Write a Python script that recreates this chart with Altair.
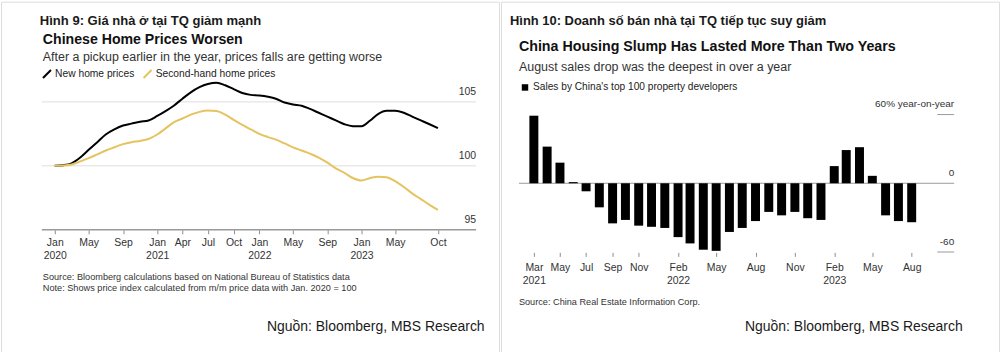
import altair as alt
import pandas as pd
import datetime as dt

# ---------------- data: left panel (price index, Jan 2020 = 100) ----------------
left_months = pd.date_range("2020-01-01", "2023-10-01", freq="MS").strftime("%Y-%m-%d").tolist()
new_home = [100.0, 100.05, 100.2, 100.65, 101.25, 101.85, 102.45, 102.85, 103.15, 103.3,
            103.45, 103.55, 103.9, 104.3, 104.7, 105.25, 105.75, 106.15, 106.4, 106.5,
            106.3, 106.0, 105.7, 105.55, 105.5, 105.4, 105.25, 104.95, 104.8, 104.7,
            104.45, 104.15, 103.85, 103.55, 103.25, 103.1, 103.1, 103.55, 104.05, 104.3,
            104.3, 104.15, 103.85, 103.55, 103.25, 102.95]
second_hand = [100.0, 100.02, 100.1, 100.35, 100.6, 100.9, 101.2, 101.45, 101.7, 101.85,
               101.95, 102.1, 102.45, 102.95, 103.4, 103.7, 104.0, 104.22, 104.32, 104.28,
               104.0, 103.6, 103.2, 102.85, 102.5, 102.25, 102.05, 101.75, 101.45, 101.2,
               100.95, 100.65, 100.25, 99.8, 99.45, 99.05, 98.85, 99.05, 99.15, 99.1,
               98.8, 98.35, 97.85, 97.4, 96.95, 96.55]
left_series = ["New home prices", "Second-hand home prices"]
left_colors = ["#000000", "#E5C35F"]
left_tick_dates = ["2020-01-01", "2020-05-01", "2020-09-01", "2021-01-01", "2021-04-01",
                   "2021-07-01", "2021-10-01", "2022-01-01", "2022-05-01", "2022-09-01",
                   "2023-01-01", "2023-05-01", "2023-10-01"]
left_grid_values = [100, 105]
left_axis_value = [95]
left_y_ticks = [95, 100, 105]
left_y_labels = ["95", "100", "105"]

# ---------------- data: right panel (sales, % y/y) ----------------
right_months = pd.date_range("2021-03-01", "2023-08-01", freq="MS").strftime("%Y-%m-%d").tolist()
sales_yoy = [59, 32, 18, 1, -7, -21, -35, -32, -37, -38,
             -39, -47, -52.5, -58, -59, -42.5, -39, -33, -25, -28, -25, -30.5,
             -32, 15, 29, 31.5, 6.5, -28, -33, -34]
right_series = ["Sales by China's top 100 property developers"]
right_tick_dates = ["2021-03-01", "2021-05-01", "2021-07-01", "2021-09-01", "2021-11-01",
                    "2022-02-01", "2022-05-01", "2022-08-01", "2022-11-01",
                    "2023-02-01", "2023-05-01", "2023-08-01"]
right_y_ticks = [60, 0, -60]
right_y_labels = ["60% year-on-year", "0", "-60"]

FONT = "Liberation Sans"
DAY = 86400000
CELL_W, CELL_H = 500, 352


def ms(d):
    return int(dt.datetime.fromisoformat(d).replace(tzinfo=dt.timezone.utc).timestamp() * 1000)


def text(s, x, y, size, weight="normal", color="#1a1a1a", align="left"):
    return alt.Chart(pd.DataFrame({"t": [s]})).mark_text(
        align=align, baseline="middle", fontSize=size, fontWeight=weight,
        color=color, font=FONT
    ).encode(x=alt.value(x), y=alt.value(y), text="t:N")


# ---------------- left panel ----------------
l_anchor, l_pxd = 54.0, 0.2810  # Jan 2020 pixel, px per day
l_t0 = ms("2020-01-01")
lx_scale = alt.Scale(type="utc", nice=False, padding=0,
                     domain=[l_t0 - l_anchor / l_pxd * DAY, l_t0 + (CELL_W - l_anchor) / l_pxd * DAY])
l_base_y, l_ppu = 229.0, 12.84
ly_scale = alt.Scale(domain=[95 - (CELL_H - l_base_y) / l_ppu, 95 + l_base_y / l_ppu],
                     nice=False, zero=False)

ldf = pd.DataFrame({
    "date": left_months * 2,
    "value": new_home + second_hand,
    "series": [left_series[0]] * len(new_home) + [left_series[1]] * len(second_hand),
})

l_label_expr = ("utcmonth(datum.value) == 0 ? [utcFormat(datum.value, '%b'), utcFormat(datum.value, '%Y')]"
                " : utcFormat(datum.value, '%b')")

lines = alt.Chart(ldf).mark_line(strokeWidth=2, interpolate="monotone").encode(
    x=alt.X("date:T", scale=lx_scale, title=None,
            axis=alt.Axis(values=[ms(d) for d in left_tick_dates], labelExpr=l_label_expr,
                          offset=-(CELL_H - l_base_y), domain=False, grid=False,
                          ticks=True, tickSize=4, tickColor="#8c8c8c", tickWidth=1,
                          labelFontSize=10.5, labelColor="#333333", labelFont=FONT,
                          labelPadding=4, labelLineHeight=13, labelOverlap=False,
                          labelFlush=False, labelAlign="center")),
    y=alt.Y("value:Q", scale=ly_scale, axis=None),
    color=alt.Color("series:N", scale=alt.Scale(domain=left_series, range=left_colors),
                    legend=alt.Legend(orient="none", legendX=41, legendY=67, direction="horizontal",
                                      title=None, symbolType="M-1,1L1,-1", symbolSize=64,
                                      symbolStrokeWidth=2, labelFontSize=10.3, labelColor="#222222",
                                      labelFont=FONT, labelOffset=3, columnPadding=5, padding=0,
                                      labelLimit=0)),
)

l_grid = alt.Chart(pd.DataFrame({"v": left_grid_values})).mark_rule(color="#dedede", strokeWidth=1).encode(
    y=alt.Y("v:Q", scale=ly_scale, axis=None), x=alt.value(41), x2=alt.value(477))
l_axisline = alt.Chart(pd.DataFrame({"v": left_axis_value})).mark_rule(color="#9a9a9a", strokeWidth=1.5).encode(
    y=alt.Y("v:Q", scale=ly_scale, axis=None), x=alt.value(41), x2=alt.value(477))
l_ylabels = alt.Chart(pd.DataFrame({"v": left_y_ticks, "lab": left_y_labels})).mark_text(
    align="right", baseline="middle", dy=-10, fontSize=10.5, color="#333333", font=FONT
).encode(y=alt.Y("v:Q", scale=ly_scale, axis=None), x=alt.value(477), text="lab:N")

left = alt.layer(
    l_grid, l_axisline, l_ylabels, lines,
    text("Hình 9: Giá nhà ở tại TQ giảm mạnh", 39, 19, 13.1, "bold"),
    text("Chinese Home Prices Worsen", 42, 38, 14.2, "bold", "#111111"),
    text("After a pickup earlier in the year, prices falls are getting worse", 42, 56, 12.5, color="#333333"),
    text("Source: Bloomberg calculations based on National Bureau of Statistics data", 42, 276, 9.2, color="#333333"),
    text("Note: Shows price index calculated from m/m price data with Jan. 2020 = 100", 42, 287, 9.2, color="#333333"),
    text("Nguồn: Bloomberg, MBS Research", 267, 327, 14, color="#1a1a1a"),
).properties(width=CELL_W, height=CELL_H)

# ---------------- right panel ----------------
r_anchor, r_pxd = 33.0, 0.4296  # Mar 2021 pixel (cell coords), px per day
r_t0 = ms("2021-03-01")
rx_scale = alt.Scale(type="utc", nice=False, padding=0,
                     domain=[r_t0 - r_anchor / r_pxd * DAY, r_t0 + (CELL_W - r_anchor) / r_pxd * DAY])
r_zero, r_ppu = 182.3, 1.15
ry_scale = alt.Scale(domain=[-(CELL_H - r_zero) / r_ppu, r_zero / r_ppu], nice=False, zero=False)

rdf = pd.DataFrame({"date": right_months, "value": sales_yoy, "series": right_series * len(sales_yoy)})

r_label_expr = ("(utcmonth(datum.value) == 1 || (utcyear(datum.value) == 2021 && utcmonth(datum.value) == 2))"
                " ? [utcFormat(datum.value, '%b'), utcFormat(datum.value, '%Y')] : utcFormat(datum.value, '%b')")

bars = alt.Chart(rdf).mark_bar(size=9).encode(
    x=alt.X("date:T", scale=rx_scale, title=None,
            axis=alt.Axis(values=[ms(d) for d in right_tick_dates], labelExpr=r_label_expr,
                          offset=-(CELL_H - 251.7), domain=False, grid=False,
                          ticks=True, tickSize=4, tickColor="#8c8c8c", tickWidth=1,
                          labelFontSize=10.5, labelColor="#333333", labelFont=FONT,
                          labelPadding=6, labelLineHeight=13.5, labelOverlap=False,
                          labelFlush=False, labelAlign="center")),
    y=alt.Y("value:Q", scale=ry_scale, axis=None),
    y2=alt.datum(0),
    fill=alt.Fill("series:N", scale=alt.Scale(domain=right_series, range=["#000000"]),
                  legend=alt.Legend(orient="none", legendX=19, legendY=81, direction="horizontal",
                                    title=None, symbolType="square", symbolSize=42,
                                    symbolStrokeWidth=0, labelFontSize=10.2, labelColor="#222222",
                                    labelFont=FONT, labelOffset=3, padding=0, labelLimit=0)),
)

r_zero_line = alt.Chart(pd.DataFrame({"v": [0]})).mark_rule(color="#9a9a9a", strokeWidth=1).encode(
    y=alt.Y("v:Q", scale=ry_scale, axis=None), x=alt.value(18), x2=alt.value(455))
r_short = alt.Chart(pd.DataFrame({"v": [60, -60]})).mark_rule(color="#9a9a9a", strokeWidth=1).encode(
    y=alt.Y("v:Q", scale=ry_scale, axis=None), x=alt.value(438), x2=alt.value(455))
r_ylabels = alt.Chart(pd.DataFrame({"v": right_y_ticks, "lab": right_y_labels})).mark_text(
    align="right", baseline="middle", dy=-10.5, fontSize=10, color="#333333", font=FONT
).encode(y=alt.Y("v:Q", scale=ry_scale, axis=None), x=alt.value(455), text="lab:N")

right = alt.layer(
    r_zero_line, r_short, r_ylabels, bars,
    text("Hình 10: Doanh số bán nhà tại TQ tiếp tục suy giảm", 9, 19, 13, "bold"),
    text("China Housing Slump Has Lasted More Than Two Years", 18, 45, 14.3, "bold", "#111111"),
    text("August sales drop was the deepest in over a year", 18, 66, 12.5, color="#333333"),
    text("Source: China Real Estate Information Corp.", 18, 302, 9.2, color="#333333"),
    text("Nguồn: Bloomberg, MBS Research", 245, 327, 14, color="#1a1a1a"),
).properties(width=CELL_W, height=CELL_H)

chart = alt.hconcat(left, right, spacing=0, padding=0).resolve_scale(
    x="independent", y="independent", color="independent", fill="independent"
).resolve_legend(color="independent", fill="independent").configure_view(
    stroke=None
).configure(font=FONT, background="white")

chart.save("out.html", embed_options={"renderer": "svg", "actions": False})
